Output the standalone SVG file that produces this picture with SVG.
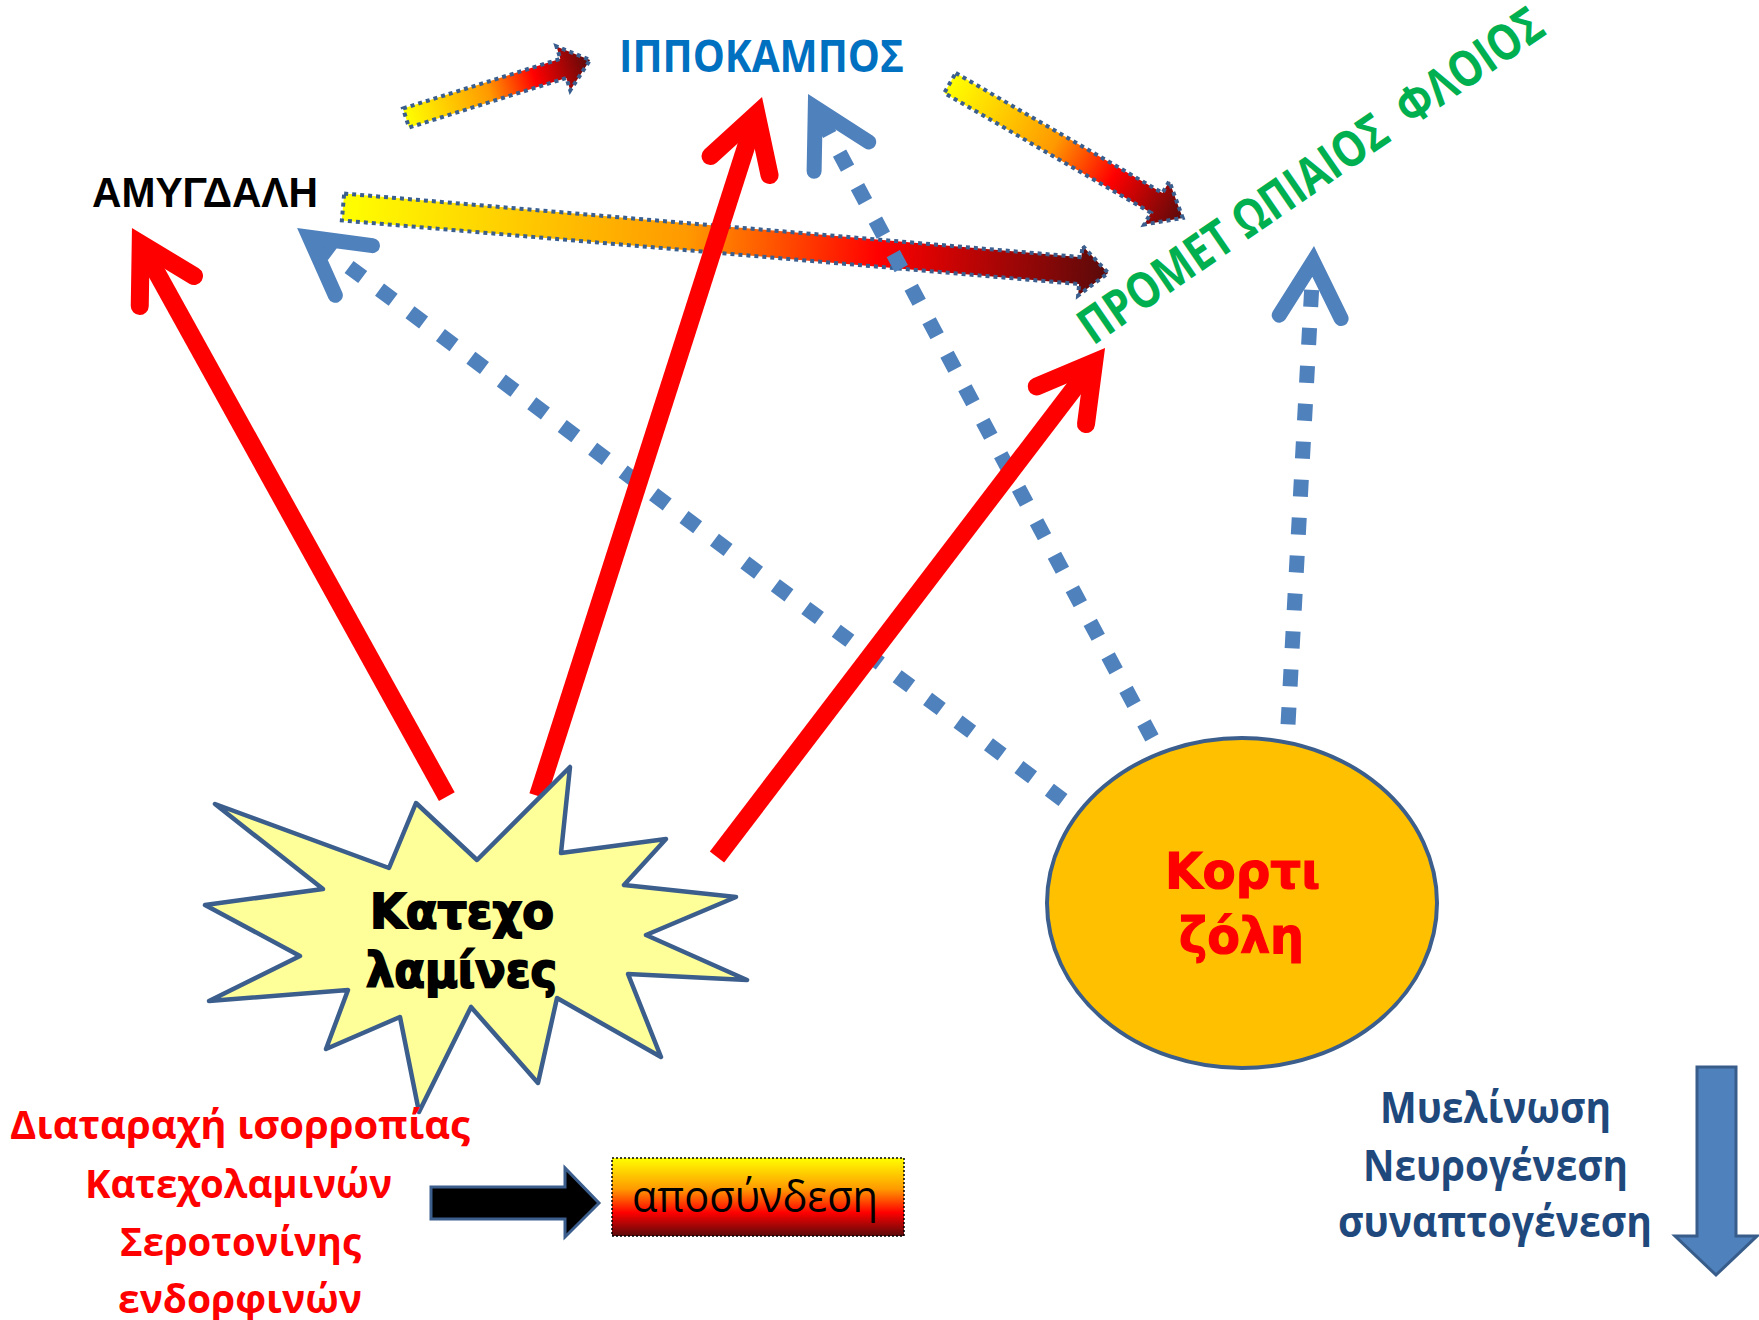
<svg xmlns="http://www.w3.org/2000/svg" width="1759" height="1320" viewBox="0 0 1759 1320">
<style>
.ga{fill:url(#gArrow);stroke:#3A5F8F;stroke-width:4;stroke-dasharray:4 4}
.rs{fill:none;stroke:#FF0000;stroke-width:18;stroke-linecap:butt}
.rh{fill:none;stroke:#FF0000;stroke-width:18;stroke-linecap:round;stroke-linejoin:miter}
.bs{fill:none;stroke:#4F81BD;stroke-width:15;stroke-dasharray:17 21}
.bh{fill:none;stroke:#4F81BD;stroke-width:15;stroke-linecap:round;stroke-linejoin:miter}
.osb{font-family:"Open Sans","Noto Sans",sans-serif;font-weight:700}
.djb{font-family:"DejaVu Sans",sans-serif;font-weight:700}
</style>
<defs>
<linearGradient id="gArrow" x1="0" y1="0" x2="1" y2="0">
<stop offset="0" stop-color="#FFFF00"/>
<stop offset="0.45" stop-color="#FF9900"/>
<stop offset="0.7" stop-color="#FF0000"/>
<stop offset="1" stop-color="#5A0A0A"/>
</linearGradient>
<linearGradient id="gBox" x1="0" y1="0" x2="0" y2="1">
<stop offset="0" stop-color="#FFFF00"/>
<stop offset="0.4" stop-color="#FF9900"/>
<stop offset="0.7" stop-color="#FF0000"/>
<stop offset="1" stop-color="#5A0A0A"/>
</linearGradient>
</defs>
<rect width="1759" height="1320" fill="#FFFFFF"/>

<g id="connectors">
<polygon class="ga" transform="translate(406,118) rotate(-17.5)" points="0,-10 165,-10 165,-23 193,0 165,23 165,10 0,10"/>
<polygon class="ga" transform="translate(343,207) rotate(4.93)" points="0,-13.5 740,-13.5 740,-25 768,0 740,25 740,13.5 0,13.5"/>
<polygon class="ga" transform="translate(950,83) rotate(30.1)" points="0,-11.5 239,-11.5 239,-25 269,0 239,25 239,11.5 0,11.5"/>

<g transform="translate(297,228) rotate(-143.25)"><path class="bs" d="M -956 0 L -22 0"/><polyline class="bh" points="-71,-31 -15.5,0 -71,31"/></g>
<g transform="translate(808,94) rotate(-118.11)"><path class="bs" d="M -730 0 L -22 0"/><polyline class="bh" points="-71,-31 -15.5,0 -71,31"/></g>
<g transform="translate(1314,246) rotate(-86.89)"><path class="bs" d="M -479 0 L -22 0"/><polyline class="bh" points="-71,-31 -15.5,0 -71,31"/></g>

<g transform="translate(132,228) rotate(-118.97)"><path class="rs" d="M -650 0 L -25 0"/><polyline class="rh" points="-72,-31 -18,0 -72,31"/></g>
<g transform="translate(762,97) rotate(-72.23)"><path class="rs" d="M -734 0 L -25 0"/><polyline class="rh" points="-72,-31 -18,0 -72,31"/></g>
<g transform="translate(1105,348) rotate(-52.68)"><path class="rs" d="M -640 0 L -25 0"/><polyline class="rh" points="-72,-31 -18,0 -72,31"/></g>

<polygon points="431,1187 565,1187 565,1168 599,1203 565,1237 565,1219 431,1219" fill="#000000" stroke="#3B5E8C" stroke-width="3"/>
<polygon points="1697,1067 1736,1067 1736,1236 1757,1236 1716,1275 1675,1236 1697,1236" fill="#4F81BD" stroke="#385D8A" stroke-width="3"/>
</g>

<g id="hippocampus">
<text class="osb" x="619" y="72" font-size="45" fill="#0070C0" textLength="285" lengthAdjust="spacingAndGlyphs">ΙΠΠΟΚΑΜΠΟΣ</text>
</g>
<g id="amygdala">
<text x="92" y="207" font-family="'Liberation Sans',Arial,sans-serif" font-weight="700" font-size="42" fill="#000000" textLength="226" lengthAdjust="spacingAndGlyphs">ΑΜΥΓΔΑΛΗ</text>
</g>
<g id="prefrontal">
<text class="osb" transform="translate(1093,346) rotate(-34.5)" x="0" y="0" font-size="50" fill="#00B050" textLength="552" lengthAdjust="spacingAndGlyphs" xml:space="preserve">ΠΡΟΜΕΤ ΩΠΙΑΙΟΣ  ΦΛΟΙΟΣ</text>
</g>

<g id="catecholamines">
<polygon points="215,804 389,868 416,803 477,860 570,767 561,853 666,839 624,885 736,897 646,935 747,980 628,974 661,1057 557,998 538,1083 471,1007 419,1112 400,1017 326,1049 348,990 209,1001 300,956 205,905 323,889" fill="#FFFF99" stroke="#3B5E8C" stroke-width="4.5" stroke-linejoin="round"/>
<text class="djb" x="370" y="928" font-size="48" fill="#000000" stroke="#000000" stroke-width="2" textLength="184" lengthAdjust="spacingAndGlyphs">Κατεχο</text>
<text class="djb" x="366" y="987" font-size="48" fill="#000000" stroke="#000000" stroke-width="2" textLength="191" lengthAdjust="spacingAndGlyphs">λαμίνες</text>
</g>

<g id="cortisol">
<ellipse cx="1242" cy="903" rx="195" ry="165" fill="#FFC000" stroke="#3B5E8C" stroke-width="4"/>
<text class="djb" x="1165" y="888" font-size="50" fill="#FF0000" stroke="#FF0000" stroke-width="1.2" textLength="155" lengthAdjust="spacingAndGlyphs">Κορτι</text>
<text class="djb" x="1179" y="953" font-size="50" fill="#FF0000" stroke="#FF0000" stroke-width="1.2" textLength="125" lengthAdjust="spacingAndGlyphs">ζόλη</text>
</g>

<g id="imbalance">
<text class="osb" x="10" y="1139" font-size="40" fill="#FF0000" textLength="460" lengthAdjust="spacingAndGlyphs">Διαταραχή ισορροπίας</text>
<text class="osb" x="85" y="1198" font-size="40" fill="#FF0000" textLength="307" lengthAdjust="spacingAndGlyphs">Κατεχολαμινών</text>
<text class="osb" x="120" y="1256" font-size="40" fill="#FF0000" textLength="241" lengthAdjust="spacingAndGlyphs">Σεροτονίνης</text>
<text class="osb" x="118" y="1313" font-size="40" fill="#FF0000" textLength="244" lengthAdjust="spacingAndGlyphs">ενδορφινών</text>
</g>

<g id="disconnection">
<rect x="612" y="1158" width="292" height="78" fill="url(#gBox)" stroke="#000000" stroke-width="1.5" stroke-dasharray="2 2"/>
<text x="632" y="1212" font-family="'Open Sans','Noto Sans',sans-serif" font-size="44" fill="#000000" textLength="246" lengthAdjust="spacingAndGlyphs">αποσύνδεση</text>
</g>

<g id="myelination">
<text class="osb" x="1380" y="1123" font-size="43" fill="#1F497D" textLength="231" lengthAdjust="spacingAndGlyphs">Μυελίνωση</text>
<text class="osb" x="1363" y="1181" font-size="43" fill="#1F497D" textLength="265" lengthAdjust="spacingAndGlyphs">Νευρογένεση</text>
<text class="osb" x="1338" y="1237" font-size="43" fill="#1F497D" textLength="314" lengthAdjust="spacingAndGlyphs">συναπτογένεση</text>
</g>
</svg>
